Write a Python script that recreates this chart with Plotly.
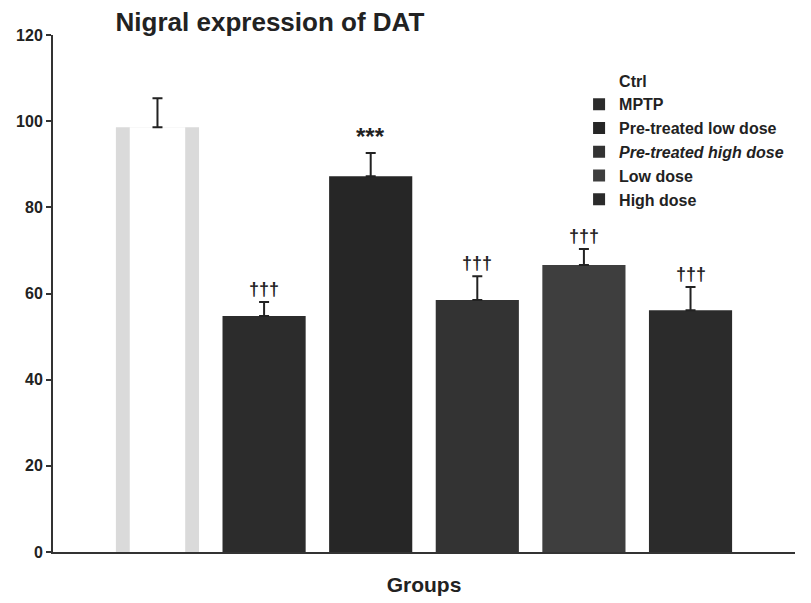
import plotly.graph_objects as go

groups = ["Ctrl", "MPTP", "Pre-treated low dose", "Pre-treated high dose", "Low dose", "High dose"]
legend_names = ["Ctrl", "MPTP", "Pre-treated low dose", "<i>Pre-treated high dose</i>", "Low dose", "High dose"]
values = [98.6, 54.8, 87.2, 58.5, 66.6, 56.1]
errors = [6.7, 3.2, 5.4, 5.5, 3.7, 5.4]
marks = ["", "†††", "***", "†††", "†††", "†††"]
colors = ["#ffffff", "#2c2c2c", "#262626", "#333333", "#3e3e3e", "#2b2b2b"]
positions = [0, 1, 2, 3, 4, 5]

fig = go.Figure()
# Ctrl bar: light grey edges with a white centre
fig.add_trace(go.Bar(
    x=[positions[0]], y=[values[0]], width=0.78, showlegend=False,
    marker=dict(color="#dadada", line=dict(width=0)), legendgroup=groups[0],
))
for i, g in enumerate(groups):
    fig.add_trace(go.Bar(
        x=[positions[i]], y=[values[i]], name=legend_names[i],
        width=0.52 if i == 0 else 0.78,
        marker=dict(color=colors[i], line=dict(width=0)),
        error_y=dict(type="data", symmetric=False, array=[errors[i]], arrayminus=[0],
                     color="#222222", thickness=2, width=5),
        legendgroup=g,
    ))

for i, m in enumerate(marks):
    if m:
        fig.add_annotation(x=positions[i], y=values[i] + errors[i], text="<b>" + m + "</b>",
                           showarrow=False, yanchor="bottom", yshift=1,
                           font=dict(size=24 if m == "***" else 18, color="#222222",
                                     family="Liberation Sans, Arial, sans-serif"))

fig.update_layout(
    width=811, height=603,
    margin=dict(l=45, r=24, t=27, b=59),
    plot_bgcolor="white", paper_bgcolor="white",
    barmode="overlay",
    font=dict(family="Liberation Sans, Arial, sans-serif", color="#222222"),
    title=dict(text="<b>Nigral expression of DAT</b>", xref="container", x=0.323, xanchor="center",
               yref="container", y=0.977, yanchor="middle", automargin=False,
               font=dict(size=26, color="#222222")),
    legend=dict(x=0.709, y=0.945, xanchor="left", yanchor="top", bgcolor="rgba(0,0,0,0)",
                font=dict(size=16, color="#222222", weight="bold"), tracegroupgap=8, itemwidth=30,
                traceorder="normal"),
    showlegend=True,
)
fig.update_xaxes(range=[-0.98, 5.98], showticklabels=False, showgrid=False, zeroline=False,
                 showline=True, linecolor="#333333", linewidth=2, ticks="", automargin=False,
                 title=dict(text="<b>Groups</b>", standoff=24,
                            font=dict(size=21, family="Liberation Sans Narrow, Liberation Sans, Arial")))
fig.update_yaxes(range=[0, 120], dtick=20, showgrid=False, zeroline=False, automargin=False,
                 showline=True, linecolor="#333333", linewidth=2, ticks="outside", ticklen=5,
                 tickcolor="#333333", tickwidth=2,
                 tickfont=dict(size=16, weight="bold"))

fig.write_html("out.html")
